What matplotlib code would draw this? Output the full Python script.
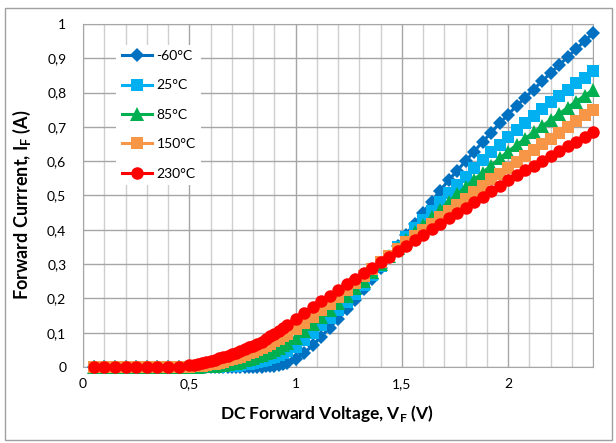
import matplotlib
matplotlib.use('Agg')
import matplotlib.pyplot as plt
from matplotlib.patches import Rectangle
from matplotlib.ticker import MultipleLocator, FuncFormatter

plt.rcParams['font.family'] = ['Lato', 'DejaVu Sans']

#------------ DATA ------------
v_low = [0.05, 0.10, 0.15, 0.20, 0.25, 0.30, 0.35, 0.40, 0.45]
v_knee = [0.50, 0.52, 0.54, 0.56, 0.58, 0.60, 0.62, 0.64, 0.66, 0.68, 0.70, 0.72,
          0.74, 0.76, 0.78, 0.80, 0.82, 0.84, 0.86, 0.88, 0.90, 0.92, 0.94]
v_high = [0.96, 1.00, 1.04, 1.08, 1.12, 1.16, 1.20, 1.24, 1.28, 1.32, 1.36, 1.40,
          1.44, 1.48, 1.52, 1.56, 1.60, 1.64, 1.68, 1.72, 1.76, 1.80, 1.84, 1.88,
          1.92, 1.96, 2.00, 2.04, 2.08, 2.12, 2.16, 2.20, 2.24, 2.28, 2.32, 2.36, 2.40]
volts = v_low + v_knee + v_high

zeros_low = [0.0, 0.0, 0.0, 0.0, 0.0, 0.0, 0.0, 0.0, 0.0]

i_m60 = zeros_low + [
    0.0, 0.0, 0.0, 0.0, 0.0, 0.0, 0.0, 0.0, 0.0, 0.0, 0.0, 0.0,
    0.0, 0.0, 0.0, 0.0, 0.001, 0.001, 0.002, 0.003, 0.004, 0.006, 0.009] + [
    0.012, 0.022, 0.040, 0.063, 0.088, 0.114, 0.140, 0.168, 0.196, 0.226, 0.258, 0.290,
    0.322, 0.354, 0.386, 0.418, 0.450, 0.482, 0.514, 0.544, 0.572, 0.600, 0.628, 0.656,
    0.683, 0.710, 0.736, 0.761, 0.785, 0.809, 0.833, 0.857, 0.880, 0.903, 0.927, 0.950,
    0.973]

i_25 = zeros_low + [
    0.0, 0.0, 0.0, 0.0, 0.0, 0.0, 0.001, 0.001, 0.002, 0.002, 0.003, 0.004,
    0.006, 0.008, 0.010, 0.012, 0.015, 0.018, 0.021, 0.025, 0.030, 0.035, 0.041] + [
    0.046, 0.058, 0.078, 0.099, 0.121, 0.143, 0.165, 0.189, 0.213, 0.239, 0.267, 0.295,
    0.323, 0.351, 0.378, 0.404, 0.430, 0.456, 0.482, 0.507, 0.531, 0.555, 0.579, 0.603,
    0.626, 0.648, 0.670, 0.691, 0.712, 0.732, 0.752, 0.772, 0.790, 0.809, 0.827, 0.844,
    0.862]

i_85 = zeros_low + [
    0.0, 0.001, 0.001, 0.002, 0.002, 0.003, 0.004, 0.006, 0.007, 0.009, 0.011, 0.013,
    0.016, 0.020, 0.023, 0.027, 0.031, 0.035, 0.040, 0.045, 0.050, 0.056, 0.063] + [
    0.070, 0.085, 0.105, 0.125, 0.145, 0.165, 0.187, 0.208, 0.229, 0.252, 0.276, 0.300,
    0.324, 0.348, 0.371, 0.393, 0.415, 0.437, 0.459, 0.481, 0.503, 0.525, 0.546, 0.567,
    0.587, 0.608, 0.628, 0.647, 0.666, 0.684, 0.702, 0.720, 0.738, 0.756, 0.774, 0.791,
    0.808]

i_150 = zeros_low + [
    0.001, 0.002, 0.003, 0.004, 0.006, 0.008, 0.010, 0.013, 0.016, 0.019, 0.022, 0.026,
    0.030, 0.035, 0.040, 0.045, 0.051, 0.056, 0.062, 0.068, 0.075, 0.082, 0.089] + [
    0.095, 0.110, 0.128, 0.146, 0.165, 0.185, 0.205, 0.225, 0.245, 0.265, 0.285, 0.305,
    0.325, 0.345, 0.364, 0.382, 0.400, 0.418, 0.436, 0.454, 0.472, 0.490, 0.509, 0.528,
    0.547, 0.564, 0.580, 0.598, 0.616, 0.633, 0.649, 0.665, 0.683, 0.701, 0.718, 0.734,
    0.750]

i_230 = zeros_low + [
    0.005, 0.007, 0.009, 0.012, 0.015, 0.018, 0.021, 0.025, 0.029, 0.033, 0.037, 0.042,
    0.047, 0.052, 0.057, 0.062, 0.068, 0.074, 0.081, 0.089, 0.097, 0.105, 0.114] + [
    0.122, 0.140, 0.158, 0.175, 0.191, 0.208, 0.225, 0.241, 0.257, 0.273, 0.289, 0.305,
    0.321, 0.337, 0.353, 0.369, 0.385, 0.401, 0.417, 0.433, 0.449, 0.465, 0.481, 0.497,
    0.513, 0.529, 0.545, 0.559, 0.573, 0.587, 0.601, 0.615, 0.629, 0.643, 0.657, 0.671,
    0.685]

labels = ['-60°C', '25°C', '85°C', '150°C', '230°C']
currents = [i_m60, i_25, i_85, i_150, i_230]
colors = ['#0070C0', '#00B0F0', '#00B050', '#F79646', '#FF0000']
markers = ['D', 's', '^', 's', 'o']
msizes = [7, 9, 9.5, 9, 9]

#------------ PLOT ------------
fig = plt.figure(figsize=(6.16, 4.43), dpi=100)
ax = fig.add_axes([83/616, 1-367/443, 510/616, 343/443])

for k in range(5):
    ax.plot(volts, currents[k], color=colors[k], marker=markers[k], markersize=msizes[k],
            markeredgewidth=0, linewidth=2.2, label=labels[k], zorder=3+k,
            clip_on=False)

ax.set_xlim(0, 2.4)
ax.set_ylim(0, 1)
ax.xaxis.set_major_locator(MultipleLocator(0.5))
ax.xaxis.set_minor_locator(MultipleLocator(0.1))
ax.yaxis.set_major_locator(MultipleLocator(0.1))
comma = FuncFormatter(lambda v, p: ('%g' % round(v, 2)).replace('.', ','))
ax.xaxis.set_major_formatter(comma)
ax.yaxis.set_major_formatter(comma)

ax.grid(True, which='major', color='#a6a6a6', linewidth=1)
ax.grid(True, which='minor', axis='x', color='#cfcfcf', linewidth=1)
ax.set_axisbelow(True)
for s in ax.spines.values():
    s.set_color('#a6a6a6')
ax.tick_params(which='both', length=0, labelsize=10, colors='black', pad=8)
ax.tick_params(axis='y', pad=12)

# axis titles (placed like the Excel original)
fig.text(327/616, 1-413/443, 'DC Forward Voltage, V$_\\mathregular{F}$ (V)',
         fontsize=12.5, fontweight='bold', ha='center', va='center')
fig.text(22/616, 1-205/443, 'Forward Currrent, I$_\\mathregular{F}$ (A)',
         fontsize=13, fontweight='bold', ha='center', va='center', rotation=90)

leg = ax.legend(loc='upper left', bbox_to_anchor=(0.065, 0.94), frameon=True,
                fancybox=False, edgecolor='none', facecolor='white', framealpha=1,
                fontsize=10, numpoints=1, handlelength=2.2, labelspacing=1.25,
                handletextpad=0.3, borderaxespad=0)
leg.set_zorder(20)

# outer chart border
fig.patches.append(Rectangle((5/616, 3/443), 607/616, 432/443, transform=fig.transFigure,
                             fill=False, edgecolor='#a0a0a0', linewidth=1))

plt.savefig('out.png', dpi=100)
